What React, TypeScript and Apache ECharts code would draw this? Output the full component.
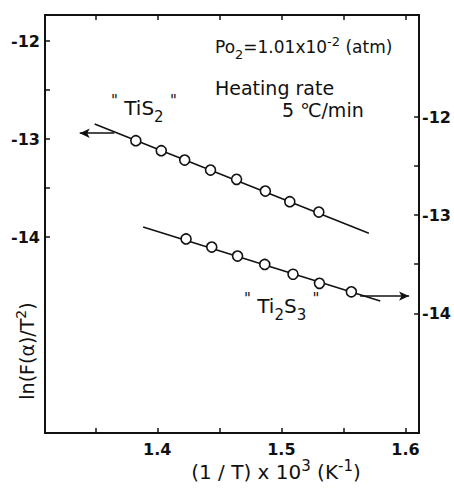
import React, { useEffect, useRef } from "react";
import * as echarts from "echarts";

const xTicks = [1.35, 1.4, 1.45, 1.5, 1.55, 1.6];
const xLabels = [1.4, 1.5, 1.6];
const yTicks = [-14, -13.5, -13, -12.5, -12];
const yLabels = [-14, -13, -12];

const tis2X = [1.3827, 1.4032, 1.4221, 1.4429, 1.4639, 1.4871, 1.5068, 1.5302];
const tis2Y = [-13.016, -13.118, -13.213, -13.315, -13.41, -13.529, -13.638, -13.743];
const tis2FitX = [1.3495, 1.5705];
const tis2FitY = [-12.846, -13.96];
const ti2s3X = [1.4232, 1.4439, 1.4647, 1.4866, 1.5094, 1.5307, 1.5564];
const ti2s3Y = [-13.242, -13.325, -13.417, -13.502, -13.602, -13.695, -13.781];
const ti2s3FitX = [1.3886, 1.5797];
const ti2s3FitY = [-13.12, -13.875];
const tis2ArrowX = [1.3654, 1.3375];
const tis2ArrowY = [-12.94, -12.94];
const ti2s3ArrowX = [1.5635, 1.6029];
const ti2s3ArrowY = [-13.825, -13.825];

const FONT = "DejaVu Sans";
const INK = "#111";

const zip = (xs: number[], ys: number[]) => xs.map((x, i) => [x, ys[i]]);

const richSet = (base: number, small: number, subPad: number, supPad: number) => ({
  n: { fontSize: base, fontFamily: FONT, fill: INK, color: INK },
  s: { fontSize: small, fontFamily: FONT, fill: INK, color: INK, padding: [subPad, 0, 0, 0] },
  p: { fontSize: small, fontFamily: FONT, fill: INK, color: INK, padding: [0, 0, supPad, 0] },
  q: { fontSize: small, fontFamily: FONT, fill: INK, color: INK, padding: [0, 0, supPad, 0] },
});

export default function App() {
  const ref = useRef<HTMLDivElement>(null);
  useEffect(() => {
    if (!ref.current) return;
    const chart = echarts.init(ref.current, undefined, { renderer: "svg" });
    const xCommon = {
      type: "value" as const,
      min: 1.3095,
      max: 1.611,
      splitLine: { show: false },
      axisLine: { show: true, onZero: false, lineStyle: { color: INK, width: 2 } },
      axisTick: { show: true, inside: true, length: 5, customValues: xTicks, lineStyle: { color: INK, width: 1.5 } },
    };
    const yTickCfg = { show: true, inside: true, length: 5, customValues: yTicks, lineStyle: { color: INK, width: 1.5 } };
    const labelCommon = { color: INK, fontSize: 16, fontWeight: "bold" as const, fontFamily: FONT };
    const arrowLine = (xs: number[], ys: number[]) => ({
      silent: true,
      symbol: ["none", "arrow"],
      symbolSize: [7, 10],
      label: { show: false },
      lineStyle: { color: INK, width: 1.5, type: "solid" },
      data: [[{ coord: [xs[0], ys[0]] }, { coord: [xs[1], ys[1]] }]],
    });
    const circleStyle = { color: "#fff", borderColor: INK, borderWidth: 1.6, opacity: 1 };
    chart.setOption({
      animation: false,
      backgroundColor: "#fff",
      grid: { left: 45, right: 32, top: 15, bottom: 60 },
      xAxis: [
        {
          ...xCommon,
          position: "bottom",
          axisLabel: { ...labelCommon, customValues: xLabels, margin: 8, formatter: (v: number) => v.toFixed(1) },
        },
        { ...xCommon, position: "top", axisLabel: { show: false } },
      ],
      yAxis: [
        {
          type: "value",
          position: "left",
          min: -15.995,
          max: -11.735,
          splitLine: { show: false },
          axisLine: { show: true, onZero: false, lineStyle: { color: INK, width: 2 } },
          axisTick: yTickCfg,
          axisLabel: { ...labelCommon, customValues: yLabels, margin: 5 },
        },
        {
          type: "value",
          position: "right",
          min: -15.22,
          max: -10.96,
          splitLine: { show: false },
          axisLine: { show: true, onZero: false, lineStyle: { color: INK, width: 2 } },
          axisTick: yTickCfg,
          axisLabel: { ...labelCommon, customValues: yLabels, margin: 3 },
        },
      ],
      series: [
        {
          type: "line",
          xAxisIndex: 0,
          yAxisIndex: 0,
          data: zip(tis2FitX, tis2FitY),
          showSymbol: false,
          symbol: "none",
          lineStyle: { color: INK, width: 1.5 },
          silent: true,
          z: 2,
          markLine: arrowLine(tis2ArrowX, tis2ArrowY),
        },
        {
          type: "scatter",
          xAxisIndex: 0,
          yAxisIndex: 0,
          data: zip(tis2X, tis2Y),
          symbol: "circle",
          symbolSize: 10,
          itemStyle: circleStyle,
          z: 3,
        },
        {
          type: "line",
          xAxisIndex: 0,
          yAxisIndex: 1,
          data: zip(ti2s3FitX, ti2s3FitY),
          showSymbol: false,
          symbol: "none",
          lineStyle: { color: INK, width: 1.5 },
          silent: true,
          z: 2,
          markLine: arrowLine(ti2s3ArrowX, ti2s3ArrowY),
        },
        {
          type: "scatter",
          xAxisIndex: 0,
          yAxisIndex: 1,
          data: zip(ti2s3X, ti2s3Y),
          symbol: "circle",
          symbolSize: 10,
          itemStyle: circleStyle,
          z: 3,
        },
      ],
      graphic: [
        {
          type: "text",
          x: 215,
          y: 47,
          style: {
            text: "{n|Po}{s|2}{n|=1.01x10}{p|-2}{n| (atm)}",
            rich: richSet(17, 13, 14, 12),
            align: "left",
            verticalAlign: "middle",
          },
        },
        {
          type: "text",
          x: 215,
          y: 88,
          style: { text: "Heating rate", font: `19px '${FONT}'`, fill: INK, align: "left", verticalAlign: "middle" },
        },
        {
          type: "text",
          x: 282,
          y: 110,
          style: { text: "5 ℃/min", font: `19px '${FONT}'`, fill: INK, align: "left", verticalAlign: "middle" },
        },
        {
          type: "text",
          x: 111,
          y: 108,
          style: {
            text: "{q|\"}{n| TiS}{s|2}{n| }{q|\"}",
            rich: richSet(20, 15, 18, 14),
            align: "left",
            verticalAlign: "middle",
          },
        },
        {
          type: "text",
          x: 244,
          y: 306,
          style: {
            text: "{q|\"}{n| Ti}{s|2}{n|S}{s|3}{n| }{q|\"}",
            rich: richSet(20, 15, 18, 14),
            align: "left",
            verticalAlign: "middle",
          },
        },
        {
          type: "text",
          x: 27,
          y: 351,
          rotation: Math.PI / 2,
          style: {
            text: "{n|ln(F(α)/T}{p|2}{n|)}",
            rich: richSet(19, 14, 14, 12),
            align: "center",
            verticalAlign: "middle",
          },
        },
        {
          type: "text",
          x: 276,
          y: 472,
          style: {
            text: "{n|(1 / T) x 10}{p|3}{n| (K}{p|-1}{n|)}",
            rich: richSet(20, 15, 14, 12),
            align: "center",
            verticalAlign: "middle",
          },
        },
      ],
    });
    return () => chart.dispose();
  }, []);
  return <div ref={ref} style={{ width: 454, height: 493, position: "absolute", left: 0, top: 0 }} />;
}
